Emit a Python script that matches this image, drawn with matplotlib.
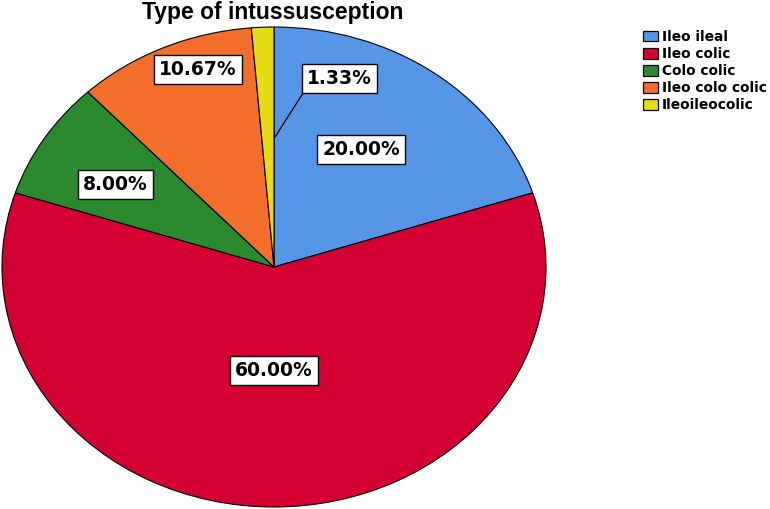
import matplotlib
matplotlib.use("Agg")
import matplotlib.pyplot as plt
from matplotlib.patches import Patch

# ── Data ──────────────────────────────────────────────────────────────────────
CATEGORIES = ["Ileo ileal", "Ileo colic", "Colo colic", "Ileo colo colic", "Ileoileocolic"]
PERCENTS = [20.00, 60.00, 8.00, 10.67, 1.33]
COLORS = ["#5596E6", "#D50032", "#2B8A2E", "#F26E2A", "#E6DC14"]

# label box centres (axes data coords, pie radius 1)
LABEL_POS = [(0.32, 0.49), (0.0, -0.43), (-0.583, 0.345), (-0.279, 0.823), (0.239, 0.785)]

W, H = 770, 509
fig = plt.figure(figsize=(W / 100, H / 100), dpi=100)
fig.patch.set_facecolor("white")

# pie is stretched horizontally in the original (ellipse)
ax = fig.add_axes([2 / W, 2 / H, 544 / W, 480 / H])
wedges, _ = ax.pie(PERCENTS, colors=COLORS, startangle=90, counterclock=False,
                   wedgeprops=dict(edgecolor="black", linewidth=0.8))
ax.set_aspect("auto")
ax.set_xlim(-1, 1)
ax.set_ylim(-1, 1)

box = dict(boxstyle="square,pad=0.27", facecolor="white", edgecolor="black", linewidth=1.0)
for (x, y), p in zip(LABEL_POS, PERCENTS):
    ax.text(x, y, f"{p:.2f}%", ha="center", va="center", fontsize=13.5,
            fontweight="bold", bbox=box, zorder=5)

# leader line for the small slice
ax.plot([0.004, 0.107], [0.542, 0.725], color="black", lw=0.9, zorder=4)

fig.text(273 / W, 1 - 12 / H, "Type of intussusception", ha="center", va="center",
         fontsize=16.5, fontweight="bold", family="Liberation Sans")

handles = [Patch(facecolor=c, edgecolor="black", linewidth=0.9) for c in COLORS]
fig.legend(handles, CATEGORIES, loc="upper left", bbox_to_anchor=(643 / W, 1 - 30 / H),
           frameon=False, prop=dict(weight="bold", size=9.9),
           handlelength=1.1, handleheight=0.8, handletextpad=0.25, labelspacing=0.22,
           borderaxespad=0, borderpad=0)

fig.savefig("out.png", dpi=100)
